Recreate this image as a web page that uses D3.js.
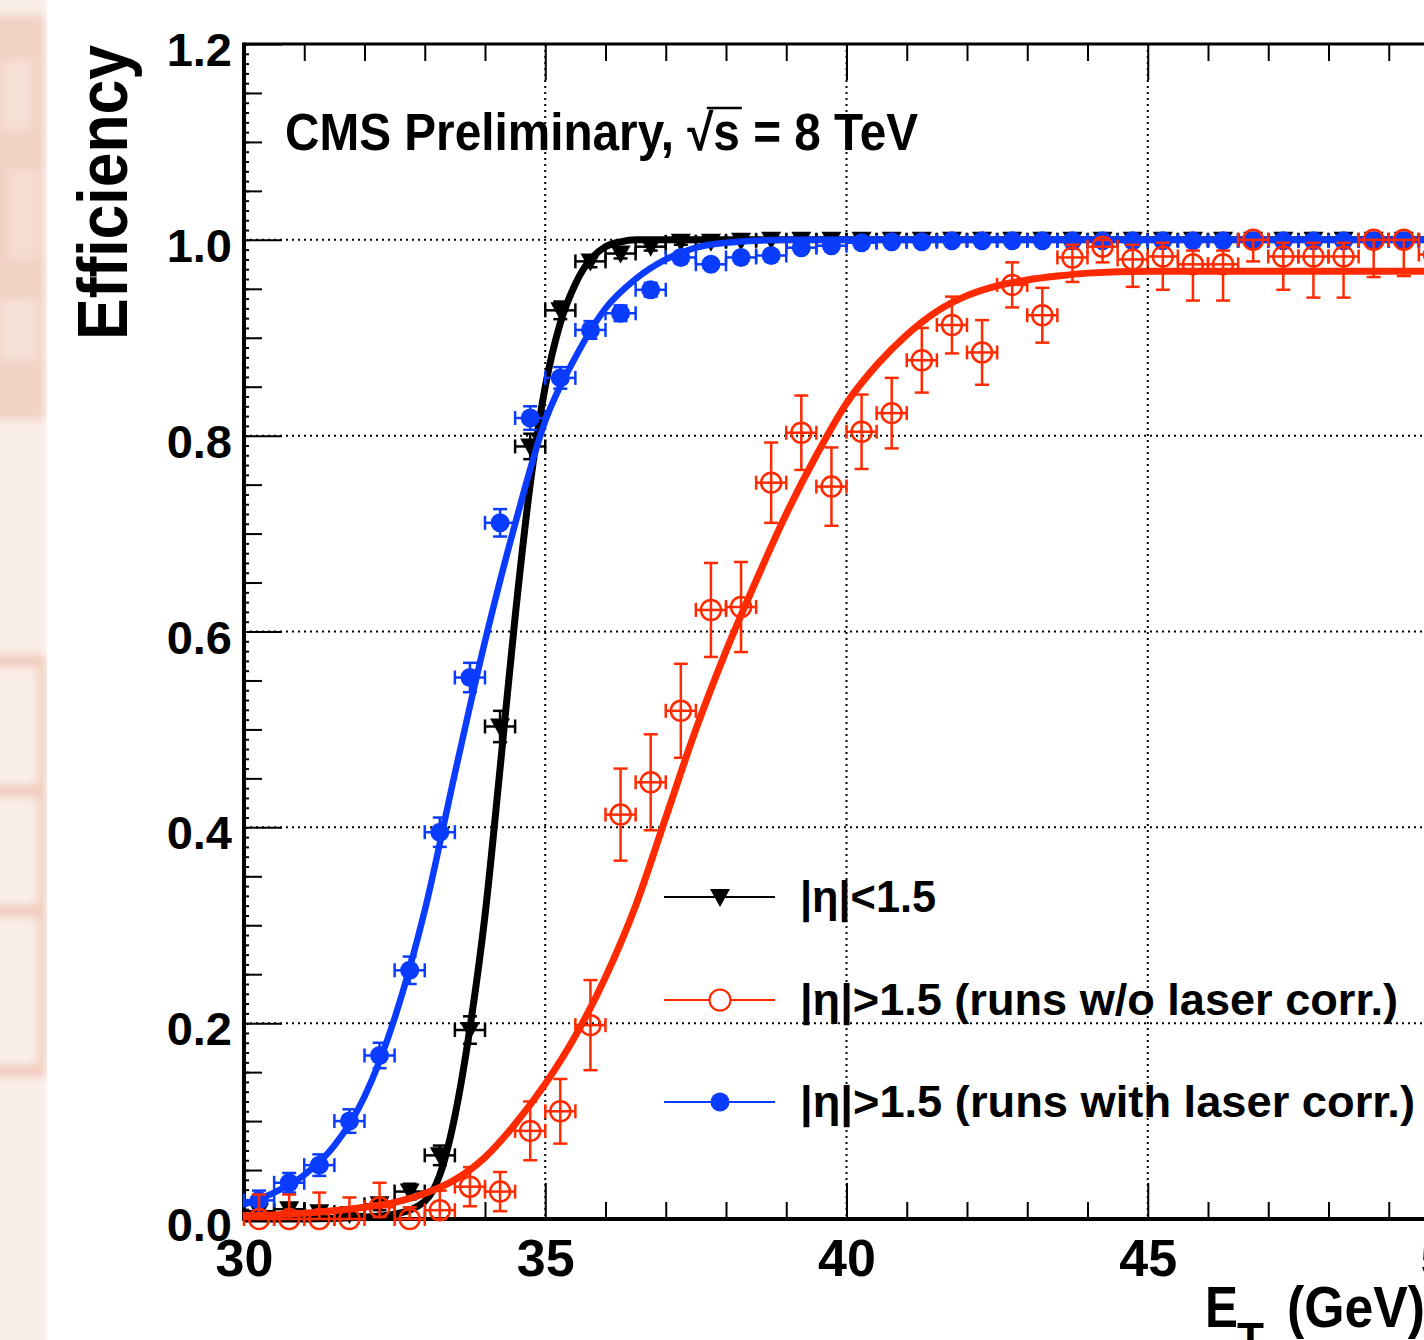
<!DOCTYPE html>
<html>
<head>
<meta charset="utf-8">
<script src="https://cdn.jsdelivr.net/npm/d3@7"></script>
<style>
  body { margin: 0; background: #fff; }
  svg { display: block; font-family: "Liberation Sans", Arial, sans-serif; font-weight: bold; }
</style>
</head>
<body>
<div class="chart"></div>
<script>
// bin centres in E_T (GeV), 0.5 GeV bins
const etBins = [30.25, 30.75, 31.25, 31.75, 32.25, 32.75, 33.25, 33.75, 34.25, 34.75,
                35.25, 35.75, 36.25, 36.75, 37.25, 37.75, 38.25, 38.75, 39.25, 39.75,
                40.25, 40.75, 41.25, 41.75, 42.25, 42.75, 43.25, 43.75, 44.25, 44.75,
                45.25, 45.75, 46.25, 46.75, 47.25, 47.75, 48.25, 48.75, 49.25, 49.75];
const binHalfWidth = 0.25;

// |eta|<1.5 (black triangles)
const effBarrel = [0.008, 0.010, 0.007, 0.005, 0.015, 0.028, 0.065, 0.193, 0.503, 0.789,
                   0.928, 0.978, 0.986, 0.993, 0.998, 0.998, 0.999, 1.000, 1.000, 1.000,
                   1.000, 1.000, 1.000, 1.000, 1.000, 1.000, 1.000, 1.000, 1.000, 1.000,
                   1.000, 1.000, 1.000, 1.000, 1.000, 1.000, 1.000, 1.000, 1.000, 1.000];
const errBarrel = [0.006, 0.006, 0.005, 0.004, 0.006, 0.008, 0.010, 0.014, 0.016, 0.013,
                   0.009, 0.006, 0.005, 0.004, 0.003, 0.003, 0.002, 0.002, 0.002, 0.002,
                   0.002, 0.002, 0.002, 0.002, 0.002, 0.002, 0.002, 0.002, 0.002, 0.002,
                   0.002, 0.002, 0.002, 0.002, 0.002, 0.002, 0.002, 0.002, 0.002, 0.002];

// |eta|>1.5, runs w/o laser corr. (red open circles)
const effNoLaser = [0.000, 0.000, 0.000, 0.000, 0.012, 0.000, 0.009, 0.033, 0.028, 0.090,
                    0.110, 0.198, 0.413, 0.446, 0.519, 0.622, 0.625, 0.752, 0.803, 0.748,
                    0.804, 0.823, 0.877, 0.913, 0.885, 0.954, 0.923, 0.982, 0.993, 0.980,
                    0.983, 0.975, 0.975, 1.000, 0.983, 0.983, 0.983, 1.000, 1.000, 0.985];
const errLowNoLaser = [0.000, 0.000, 0.000, 0.000, 0.010, 0.000, 0.009, 0.020, 0.020, 0.030,
                       0.033, 0.046, 0.047, 0.049, 0.048, 0.048, 0.046, 0.041, 0.038, 0.040,
                       0.038, 0.036, 0.033, 0.029, 0.033, 0.023, 0.028, 0.025, 0.016, 0.028,
                       0.034, 0.037, 0.037, 0.022, 0.034, 0.042, 0.042, 0.038, 0.037, 0.030];
const errHighNoLaser = [0.025, 0.025, 0.027, 0.022, 0.025, 0.012, 0.020, 0.020, 0.020, 0.030,
                        0.033, 0.046, 0.047, 0.049, 0.048, 0.048, 0.046, 0.041, 0.038, 0.040,
                        0.038, 0.036, 0.033, 0.029, 0.033, 0.023, 0.028, 0.013, 0.007, 0.015,
                        0.014, 0.014, 0.014, 0.000, 0.014, 0.014, 0.014, 0.000, 0.000, 0.012];

// |eta|>1.5, runs with laser corr. (blue filled circles)
const effLaser = [0.019, 0.037, 0.055, 0.100, 0.167, 0.254, 0.395, 0.553, 0.711, 0.818,
                  0.859, 0.908, 0.925, 0.949, 0.982, 0.975, 0.982, 0.984, 0.992, 0.994,
                  0.997, 0.998, 0.998, 0.999, 0.999, 0.999, 0.999, 0.999, 0.999, 0.999,
                  0.999, 0.999, 0.999, 0.999, 0.999, 0.999, 0.999, 0.999, 0.999, 0.999];
const errLaser = [0.010, 0.010, 0.011, 0.012, 0.013, 0.014, 0.015, 0.015, 0.014, 0.012,
                  0.011, 0.009, 0.008, 0.007, 0.005, 0.005, 0.004, 0.004, 0.003, 0.003,
                  0.002, 0.002, 0.002, 0.002, 0.002, 0.002, 0.002, 0.002, 0.002, 0.002,
                  0.002, 0.002, 0.002, 0.002, 0.002, 0.002, 0.002, 0.002, 0.002, 0.002];

// fitted turn-on curves as [E_T, efficiency]
const fitBarrel = [[30, 0.0], [31, 0.0], [32, 0.002], [32.5, 0.005], [33, 0.018], [33.25, 0.045],
                   [33.5, 0.105], [33.75, 0.195], [34, 0.31], [34.25, 0.46], [34.5, 0.615],
                   [34.75, 0.75], [35, 0.85], [35.25, 0.915], [35.5, 0.955], [35.75, 0.98],
                   [36, 0.993], [36.25, 0.998], [36.5, 1.0], [40, 1.0], [45, 1.0], [50, 1.0]];
const fitLaser = [[30, 0.015], [30.5, 0.027], [31, 0.045], [31.5, 0.075], [32, 0.125], [32.5, 0.205],
                  [33, 0.315], [33.5, 0.455], [34, 0.59], [34.5, 0.71], [35, 0.815], [35.5, 0.88],
                  [36, 0.93], [36.5, 0.96], [37, 0.98], [37.5, 0.992], [38, 0.997], [39, 1.0], [50, 1.0]];
const fitNoLaser = [[30, 0.003], [31, 0.006], [32, 0.012], [32.5, 0.017], [33, 0.026], [33.5, 0.04],
                    [34, 0.063], [34.5, 0.097], [35, 0.138], [35.5, 0.187], [36, 0.247],
                    [36.5, 0.32], [37, 0.41], [37.5, 0.5], [38, 0.58], [38.5, 0.652],
                    [39, 0.72], [39.5, 0.78], [40, 0.833], [40.5, 0.872], [41, 0.903],
                    [41.5, 0.927], [42, 0.943], [42.5, 0.953], [43, 0.959], [43.5, 0.963],
                    [44, 0.966], [45, 0.968], [50, 0.968]];

const xMajorTicks = [30, 35, 40, 45, 50];
const yMajorTicks = [0, 0.2, 0.4, 0.6, 0.8, 1.0, 1.2];
const xGrid = [35, 40, 45];
const yGrid = [0.2, 0.4, 0.6, 0.8, 1.0];
const legendLabels = ['|η|<1.5', '|η|>1.5 (runs w/o laser corr.)', '|η|>1.5 (runs with laser corr.)'];

const width = 1424, height = 1340;
const red = '#ff2a00', blue = '#0a3cff';

const svg = d3.select('.chart').append('svg')
  .attr('width', width)
  .attr('height', height);

// faded background strip on the left edge
const defs = svg.append('defs');
defs.append('filter').attr('id', 'blur')
  .append('feGaussianBlur').attr('stdDeviation', 4);
const strip = svg.append('g').attr('filter', 'url(#blur)');
strip.append('rect').attr('x', -10).attr('y', -10).attr('width', 57).attr('height', 1360).style('fill', '#f9ede8');
strip.append('rect').attr('x', -10).attr('y', 15).attr('width', 55).attr('height', 405).style('fill', '#f2d2c4');
strip.append('rect').attr('x', 2).attr('y', 60).attr('width', 30).attr('height', 70).style('fill', '#f6e0d5');
strip.append('rect').attr('x', 10).attr('y', 170).attr('width', 28).attr('height', 90).style('fill', '#f5ddd1');
strip.append('rect').attr('x', 0).attr('y', 300).attr('width', 36).attr('height', 60).style('fill', '#f6e2d8');
[655, 785, 905, 1065].forEach(yy => {
  strip.append('rect').attr('x', -10).attr('y', yy).attr('width', 55).attr('height', 12).style('fill', '#f1cbbb');
});
strip.append('rect').attr('x', 38).attr('y', 655).attr('width', 8).attr('height', 422).style('fill', '#f1cbbb');
svg.append('rect').attr('x', 47).attr('y', 0).attr('width', width - 47).attr('height', height).style('fill', '#fff');

const x = d3.scaleLinear().domain([30, 50]).range([244, 1449]);
const y = d3.scaleLinear().domain([0, 1.2]).range([1219, 44]);

// dotted grid
const grid = svg.append('g').attr('class', 'grid');
grid.selectAll('.gx').data(xGrid).join('line')
  .attr('x1', d => x(d)).attr('x2', d => x(d))
  .attr('y1', y(1.2)).attr('y2', y(0))
  .style('stroke', '#000').style('stroke-width', 2).style('stroke-dasharray', '2,4');
grid.selectAll('.gy').data(yGrid).join('line')
  .attr('x1', x(30)).attr('x2', x(50))
  .attr('y1', d => y(d)).attr('y2', d => y(d))
  .style('stroke', '#000').style('stroke-width', 2).style('stroke-dasharray', '2,4');

// axes and ticks
function styleAxis(g, labelSize) {
  g.select('.domain').remove();
  g.selectAll('.tick line').style('stroke', '#000').style('stroke-width', 2);
  g.selectAll('.tick text')
    .style('font-family', '"Liberation Sans", Arial, sans-serif')
    .style('font-weight', 'bold')
    .style('font-size', labelSize + 'px')
    .style('fill', '#000');
}
const xMinor = d3.range(30, 51, 1).filter(v => v % 5 !== 0);
const yMedium = d3.range(0, 1.2001, 0.05).filter(v => Math.abs(v * 5 - Math.round(v * 5)) > 1e-6);
const yFine = d3.range(0, 1.2001, 0.01);

svg.append('g').attr('transform', `translate(0,${y(0)})`)
  .call(d3.axisBottom(x).tickValues(xMajorTicks).tickFormat(d3.format('d'))
    .tickSizeInner(-36).tickSizeOuter(0).tickPadding(20))
  .call(g => styleAxis(g, 52));
svg.append('g').attr('transform', `translate(0,${y(0)})`)
  .call(d3.axisBottom(x).tickValues(xMinor).tickFormat('').tickSizeInner(-17).tickSizeOuter(0))
  .call(g => styleAxis(g, 10));
svg.append('g').attr('transform', `translate(0,${y(1.2)})`)
  .call(d3.axisTop(x).tickValues(xMajorTicks).tickFormat('').tickSizeInner(-36).tickSizeOuter(0))
  .call(g => styleAxis(g, 10));
svg.append('g').attr('transform', `translate(0,${y(1.2)})`)
  .call(d3.axisTop(x).tickValues(xMinor).tickFormat('').tickSizeInner(-17).tickSizeOuter(0))
  .call(g => styleAxis(g, 10));

const yAxisG = svg.append('g').attr('transform', `translate(${x(30)},0)`)
  .call(d3.axisLeft(y).tickValues(yMajorTicks).tickFormat(d3.format('.1f'))
    .tickSizeInner(-38).tickSizeOuter(0).tickPadding(12))
  .call(g => styleAxis(g, 47));
yAxisG.selectAll('.tick text').attr('dy', '0.46em');
svg.append('g').attr('transform', `translate(${x(30)},0)`)
  .call(d3.axisLeft(y).tickValues(yMedium).tickFormat('').tickSizeInner(-18).tickSizeOuter(0))
  .call(g => styleAxis(g, 10));
svg.append('g').attr('transform', `translate(${x(30)},0)`)
  .call(d3.axisLeft(y).tickValues(yFine).tickFormat('').tickSizeInner(-5).tickSizeOuter(0))
  .call(g => styleAxis(g, 10));

// frame
svg.append('line').attr('x1', x(30)).attr('x2', x(50)).attr('y1', y(1.2)).attr('y2', y(1.2))
  .style('stroke', '#000').style('stroke-width', 3);
svg.append('line').attr('x1', x(30)).attr('x2', x(50)).attr('y1', y(0)).attr('y2', y(0))
  .style('stroke', '#000').style('stroke-width', 4);
svg.append('line').attr('x1', x(30)).attr('x2', x(30)).attr('y1', y(1.2) - 1.5).attr('y2', y(0) + 2)
  .style('stroke', '#000').style('stroke-width', 4);

// fit curves
const line = d3.line().x(d => x(d[0])).y(d => y(d[1])).curve(d3.curveMonotoneX);

// series: errors then markers
function buildPoints(eff, lo, hi) {
  return etBins.map((c, i) => ({ c: c, v: eff[i], lo: lo[i], hi: hi[i] }));
}
function drawErrors(g, pts, color, width) {
  const cap = 7;
  pts.forEach(p => {
    const cx = x(p.c), cy = y(p.v);
    const x0 = x(p.c - binHalfWidth), x1 = x(p.c + binHalfWidth);
    const segs = [[x0, cy, x1, cy], [x0, cy - cap, x0, cy + cap], [x1, cy - cap, x1, cy + cap]];
    if (p.lo > 0) {
      segs.push([cx, cy, cx, y(p.v - p.lo)]);
      segs.push([cx - cap, y(p.v - p.lo), cx + cap, y(p.v - p.lo)]);
    }
    if (p.hi > 0) {
      segs.push([cx, cy, cx, y(p.v + p.hi)]);
      segs.push([cx - cap, y(p.v + p.hi), cx + cap, y(p.v + p.hi)]);
    }
    segs.forEach(s => {
      g.append('line').attr('x1', s[0]).attr('y1', s[1]).attr('x2', s[2]).attr('y2', s[3])
        .style('stroke', color).style('stroke-width', width);
    });
  });
}
const triangleDown = 'M-10,-8L10,-8L0,10Z';

const barrelPts = buildPoints(effBarrel, errBarrel, errBarrel.map((e, i) => Math.min(e, 1 - effBarrel[i])));
const laserPts = buildPoints(effLaser, errLaser, errLaser.map((e, i) => Math.min(e, 1 - effLaser[i])));
const noLaserPts = buildPoints(effNoLaser, errLowNoLaser, errHighNoLaser);

// black
const gBlack = svg.append('g');
gBlack.append('path').datum(fitBarrel).attr('d', line)
  .style('fill', 'none').style('stroke', '#000').style('stroke-width', 7);
drawErrors(gBlack, barrelPts, '#000', 2.5);
gBlack.selectAll('.mk').data(barrelPts).join('path')
  .attr('d', triangleDown)
  .attr('transform', d => `translate(${x(d.c)},${y(d.v)})`)
  .style('fill', '#000');

// blue
const gBlue = svg.append('g');
gBlue.append('path').datum(fitLaser).attr('d', line)
  .style('fill', 'none').style('stroke', blue).style('stroke-width', 6.5);
drawErrors(gBlue, laserPts, blue, 2.5);
gBlue.selectAll('.mk').data(laserPts).join('circle')
  .attr('cx', d => x(d.c)).attr('cy', d => y(d.v)).attr('r', 9.5)
  .style('fill', blue);

// red
const gRed = svg.append('g');
gRed.append('path').datum(fitNoLaser).attr('d', line)
  .style('fill', 'none').style('stroke', red).style('stroke-width', 7);
drawErrors(gRed, noLaserPts, red, 2.5);
gRed.selectAll('.mk').data(noLaserPts).join('circle')
  .attr('cx', d => x(d.c)).attr('cy', d => y(d.v)).attr('r', 10)
  .style('fill', 'none').style('stroke', red).style('stroke-width', 2.5);

// legend
const legendRows = [
  { label: legendLabels[0], color: '#000', marker: 'tri', y: 897, len: 136 },
  { label: legendLabels[1], color: red, marker: 'open', y: 1000, len: 598 },
  { label: legendLabels[2], color: blue, marker: 'full', y: 1102, len: 615 }
];
const legend = svg.append('g');
legendRows.forEach(r => {
  legend.append('line').attr('x1', 664).attr('x2', 775).attr('y1', r.y).attr('y2', r.y)
    .style('stroke', r.color).style('stroke-width', 2);
  if (r.marker === 'tri') {
    legend.append('path').attr('d', triangleDown).attr('transform', `translate(720,${r.y})`).style('fill', '#000');
  } else if (r.marker === 'open') {
    legend.append('circle').attr('cx', 720).attr('cy', r.y).attr('r', 10.5)
      .style('fill', '#fff').style('stroke', red).style('stroke-width', 2.2);
  } else {
    legend.append('circle').attr('cx', 720).attr('cy', r.y).attr('r', 9.5).style('fill', blue);
  }
  legend.append('text').attr('x', 800).attr('y', r.y + 15)
    .attr('textLength', r.len).attr('lengthAdjust', 'spacingAndGlyphs')
    .style('font-size', '44px').style('fill', '#000')
    .text(r.label);
});

// CMS label
const cmsStr = 'CMS Preliminary, √s = 8 TeV';
const cms = svg.append('text').attr('x', 285).attr('y', 150)
  .attr('textLength', 633).attr('lengthAdjust', 'spacingAndGlyphs')
  .style('font-size', '51px').style('fill', '#000')
  .text(cmsStr);
const iRoot = cmsStr.indexOf('√');
const eRoot = cms.node().getExtentOfChar(iRoot);
const eS = cms.node().getExtentOfChar(iRoot + 1);
svg.append('line')
  .attr('x1', eRoot.x + eRoot.width * 0.75).attr('x2', eS.x + eS.width + 2)
  .attr('y1', 108).attr('y2', 108)
  .style('stroke', '#000').style('stroke-width', 2.5);

// axis titles
svg.append('text')
  .attr('transform', 'translate(127,45) rotate(-90)')
  .attr('text-anchor', 'end')
  .attr('textLength', 295).attr('lengthAdjust', 'spacingAndGlyphs')
  .style('font-size', '70px').style('fill', '#000')
  .text('Efficiency');
svg.append('text').attr('x', 1205).attr('y', 1327)
  .attr('textLength', 33).attr('lengthAdjust', 'spacingAndGlyphs')
  .style('font-size', '58px').text('E');
svg.append('text').attr('x', 1237).attr('y', 1354)
  .style('font-size', '44px').text('T');
svg.append('text').attr('x', 1287).attr('y', 1327)
  .attr('textLength', 138).attr('lengthAdjust', 'spacingAndGlyphs')
  .style('font-size', '58px').text('(GeV)');
</script>
</body>
</html>
